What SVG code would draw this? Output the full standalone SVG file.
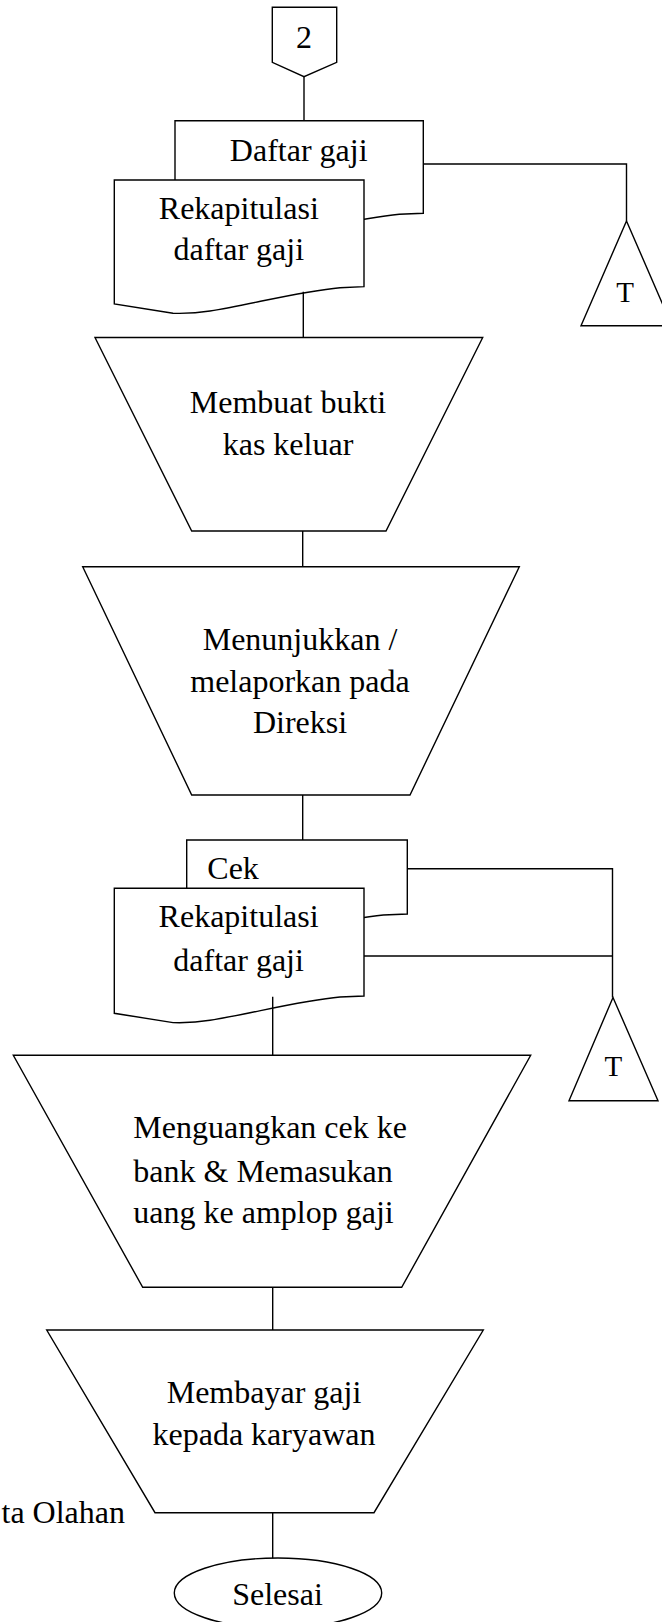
<svg xmlns="http://www.w3.org/2000/svg" width="662" height="1622" viewBox="0 0 662 1622">
<style>
.s{fill:#fff;stroke:#000;stroke-width:1.4;stroke-linejoin:miter}
.c{fill:none;stroke:#000;stroke-width:1.4}
text{font-family:"Liberation Serif","Times New Roman",serif;font-size:32px;fill:#000}
.m{text-anchor:middle}
.t{font-size:29px;text-anchor:middle}
</style>
<rect width="662" height="1622" fill="#fff"/>
<g id="conn2">
<polygon class="s" points="272.3,7.3 336.7,7.3 336.7,62.3 304,76.7 272.3,62.3"/>
<text class="m" x="304" y="48.3">2</text>
</g>
<g id="doc-daftar-gaji">
<path class="s" d="M175,120.7 H423.3 V213.3 L399.3,214.3 C359.3,217.8 309.3,231.3 269.3,237.6 C254.3,240.1 239.3,240.1 232.3,239.9 L175,230.6 Z"/>
<text class="m" x="298.7" y="161">Daftar gaji</text>
</g>
<g id="doc-rekap-1">
<path class="s" d="M114.3,180 H364 V286.7 L340,287.7 C300,291.2 250,304.7 210,311 C195,313.5 180,313.5 173,313.3 L114.3,304 Z"/>
<text class="m" x="238.8" y="219">Rekapitulasi</text>
<text class="m" x="238.8" y="260">daftar gaji</text>
</g>
<g id="file-T1">
<polygon class="s" points="626.5,221 672,325.7 581,325.7"/>
<text class="t" x="625" y="301.7">T</text>
</g>
<g id="proc-bukti-kas">
<polygon class="s" points="95,337.5 482.7,337.5 386,531 191.7,531"/>
<text class="m" x="288" y="412.7">Membuat bukti</text>
<text class="m" x="288" y="455">kas keluar</text>
</g>
<g id="proc-direksi">
<polygon class="s" points="82.7,566.7 519.3,566.7 410,795 191.7,795"/>
<text class="m" x="300" y="650">Menunjukkan /</text>
<text class="m" x="300" y="691.7">melaporkan pada</text>
<text class="m" x="300" y="733.3">Direksi</text>
</g>
<g id="doc-cek">
<path class="s" d="M186.7,840 H407.3 V914 L383.3,915 C343.3,918.5 293.3,932 253.3,938.3 C238.3,940.8 223.3,940.8 216.3,940.6 L186.7,935.8 Z"/>
<text x="207.3" y="879">Cek</text>
</g>
<g id="doc-rekap-2">
<path class="s" d="M114.3,888.3 H364 V996 L340,997 C300,1000.5 250,1014 210,1020.3 C195,1022.8 180,1022.8 173,1022.6 L114.3,1013.3 Z"/>
<text class="m" x="238.6" y="927.3">Rekapitulasi</text>
<text class="m" x="238.6" y="970.7">daftar gaji</text>
</g>
<g id="file-T2">
<polygon class="s" points="613,997.5 658,1100.7 569,1100.7"/>
<text class="t" x="613.3" y="1076">T</text>
</g>
<g id="proc-menguangkan">
<polygon class="s" points="13.3,1055.3 530.7,1055.3 401.7,1287.3 142.7,1287.3"/>
<text x="133.3" y="1138.3">Menguangkan cek ke</text>
<text x="133.3" y="1181.7">bank &amp; Memasukan</text>
<text x="133.3" y="1223.3">uang ke amplop gaji</text>
</g>
<g id="proc-membayar">
<polygon class="s" points="46.7,1330 483.3,1330 374,1512.7 155,1512.7"/>
<text class="m" x="264" y="1403.3">Membayar gaji</text>
<text class="m" x="264" y="1445">kepada karyawan</text>
</g>
<g id="end-selesai">
<ellipse class="s" cx="278" cy="1593" rx="103.7" ry="35"/>
<text class="m" x="277.5" y="1605">Selesai</text>
</g>
<g id="source-note">
<text x="125" y="1523.3" text-anchor="end">ta Olahan</text>
</g>
<g id="connectors">
<path class="c" d="M304,76.7 V120.7"/>
<path class="c" d="M423.3,164 H626.5 V221"/>
<path class="c" d="M303.3,291.7 V337.5"/>
<path class="c" d="M302.7,531 V566.7"/>
<path class="c" d="M302.7,795 V840"/>
<path class="c" d="M407.3,868.7 H612.5 V997.5"/>
<path class="c" d="M364,956 H612.5"/>
<path class="c" d="M272.7,996.7 V1055.3"/>
<path class="c" d="M272.7,1287.3 V1330"/>
<path class="c" d="M272.7,1512.7 V1558.3"/>
</g>
</svg>
